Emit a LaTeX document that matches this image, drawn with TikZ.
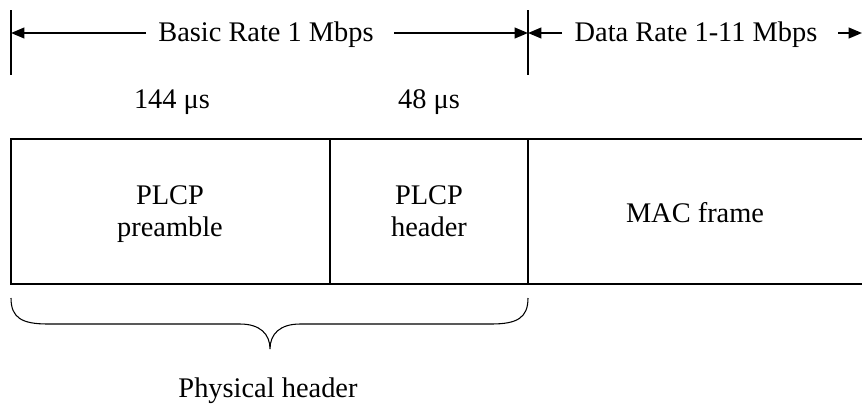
\documentclass[tikz,border=0pt]{standalone}
\usepackage{fontspec}
\setmainfont{Liberation Serif}
\usetikzlibrary{arrows.meta}
\begin{document}
\begin{tikzpicture}[x=0.75pt,y=-0.75pt,
  lbl/.style={font=\fontsize{21.3}{24.5}\selectfont, inner sep=0pt, align=center},
  thick line/.style={line width=1.5pt},
  rate arrow/.style={line width=1.5pt,-{Triangle[length=10pt,width=8pt]}},
  brace line/.style={line width=0.8pt}]
\useasboundingbox (0,0) rectangle (862,408);
% vertical markers
\coordinate (v1t) at (11,10); \coordinate (v1b) at (11,75);
\coordinate (v2t) at (528,10); \coordinate (v2b) at (528,75);
\draw[line width=1.2pt] (v1t) -- (v1b);
\draw[line width=1.2pt] (v2t) -- (v2b);
% rate labels
\node[lbl] (basic) at (266,35) {Basic Rate 1 Mbps};
\node[lbl] (data) at (696,35) {Data Rate 1-11 Mbps};
\coordinate (bl) at (146,33); \coordinate (br) at (394,33);
\coordinate (dl) at (562,33); \coordinate (dr) at (838,33);
\coordinate (a1) at (11,33); \coordinate (a2) at (528,33); \coordinate (a3) at (862,33);
\draw[rate arrow] (bl) -- (a1);
\draw[rate arrow] (br) -- (a2);
\draw[rate arrow] (dl) -- (a2);
\draw[rate arrow] (dr) -- (a3);
% durations
\node[lbl] (t1) at (172,102) {144 μs};
\node[lbl] (t2) at (429,102) {48 μs};
% frame boxes
\coordinate (b0t) at (11,139); \coordinate (b0b) at (11,284);
\coordinate (b1t) at (330,139); \coordinate (b1b) at (330,284);
\coordinate (b2t) at (528,139); \coordinate (b2b) at (528,284);
\coordinate (b3t) at (862,139); \coordinate (b3b) at (862,284);
\draw[thick line] (b3t) -- (b0t) -- (b0b) -- (b3b);
\draw[thick line] (b1t) -- (b1b);
\draw[thick line] (b2t) -- (b2b);
\node[lbl] (pre) at (170,214) {\strut PLCP\\\strut preamble};
\node[lbl] (hdr) at (429,214) {\strut PLCP\\\strut header};
\node[lbl] (mac) at (695,213) {MAC frame};
% brace
\coordinate (bra) at (11,298); \coordinate (brb) at (528,298); \coordinate (tip) at (270,349);
\draw[brace line] (bra) .. controls (11,318) and (22,324) .. (48,324) -- (240,324)
  .. controls (260,324) and (270,334) .. (tip)
  .. controls (270,334) and (280,324) .. (300,324) -- (491,324)
  .. controls (517,324) and (528,318) .. (brb);
\node[lbl] (phys) at (268,391) {Physical header};
\end{tikzpicture}
\end{document}
